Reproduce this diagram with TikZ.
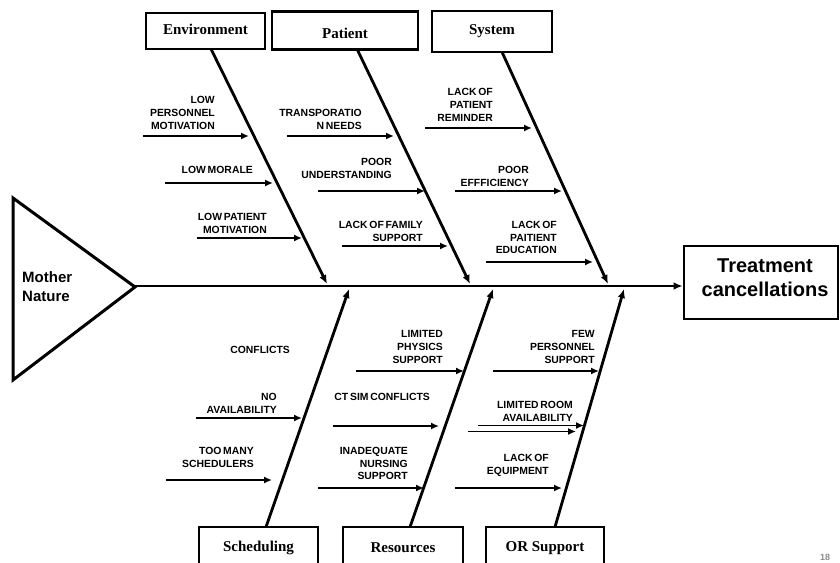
\documentclass[tikz,border=0pt]{standalone}
\usepackage{fontspec}
\setmainfont{Liberation Sans}[WordSpace=0.6]
\newfontfamily\catfont{Liberation Serif}
\usetikzlibrary{arrows.meta}
\begin{document}
\begin{tikzpicture}[x=1pt,y=-1pt,
  lbl/.style={font=\bfseries\fontsize{10.4}{12.8}\selectfont, align=right, anchor=east, inner sep=0pt, text=black},
  catbox/.style={draw, line width=2.6pt, inner sep=0pt, font=\catfont\bfseries\fontsize{15}{18}\selectfont},
  bone/.style={line width=2.8pt, -{Latex[length=9pt,width=7.5pt]}},
  sub/.style={line width=2.1pt, -{Latex[length=8pt,width=7pt]}},
  subthick/.style={line width=2.9pt, -{Latex[length=8pt,width=7pt]}},
  subthin/.style={line width=1.7pt, -{Latex[length=8pt,width=7pt]}}
]
\path[use as bounding box, clip] (0,0) rectangle (840,562);

% head
\draw[line width=3pt, line join=miter] (13,198) -- (135,287) -- (13,380) -- cycle;
\node[font=\bfseries\fontsize{15}{18.5}\selectfont, align=left, anchor=west, inner sep=0pt] (mn) at (22,286.5) {Mother\\Nature};
\node[draw, line width=2.6pt, minimum width=154pt, minimum height=73pt, inner sep=0pt] (tc) at (761,282.5) {};
\node[font=\bfseries\fontsize{20}{24}\selectfont, align=center, inner sep=0pt] (tct) at (765,277.5) {Treatment\\cancellations};
\coordinate (spine) at (135,286);
\draw[bone] (spine) -- (tc.west |- spine);

% category boxes
\node[catbox, minimum width=119pt, minimum height=36pt, text depth=4pt] (env) at (205.5,31) {Environment};
\node[catbox, minimum width=146pt, minimum height=38pt, text height=16pt] (pat) at (345,30.5) {Patient};
\node[catbox, minimum width=120pt, minimum height=41pt, text depth=4pt] (sys) at (492,31.5) {System};
\node[catbox, minimum width=119pt, minimum height=42pt] (sch) at (258.5,548) {Scheduling};
\node[catbox, minimum width=120pt, minimum height=42pt] (res) at (403,548) {Resources};
\node[catbox, minimum width=118pt, minimum height=42pt] (ors) at (545,548) {OR Support};

% bones
\coordinate (eA) at (211,49);  \coordinate (eB) at (327,284);
\coordinate (pA) at (357,49);  \coordinate (pB) at (470,284);
\coordinate (sA) at (502,52);  \coordinate (sB) at (608,284);
\coordinate (cA) at (266,527); \coordinate (cB) at (349,289);
\coordinate (rA) at (410,527); \coordinate (rB) at (493,289);
\coordinate (oA) at (555,527); \coordinate (oB) at (624,289);
\draw[bone] (eA) -- (eB);
\draw[bone] (pA) -- (pB);
\draw[bone] (sA) -- (sB);
\draw[bone] (cA) -- (cB);
\draw[bone] (rA) -- (rB);
\draw[bone] (oA) -- (oB);

% Environment causes
\node[lbl] (t1) at (215,113) {LOW\\PERSONNEL\\MOTIVATION};
\coordinate (a1s) at (143,136); \coordinate (a1e) at (249,136);
\draw[sub] (a1s) -- (a1e);
\node[lbl] (t2) at (253,170) {LOW MORALE};
\coordinate (a2s) at (165,183); \coordinate (a2e) at (273,183);
\draw[sub] (a2s) -- (a2e);
\node[lbl] (t3) at (267,223.5) {LOW PATIENT\\MOTIVATION};
\coordinate (a3s) at (197,238); \coordinate (a3e) at (302,238);
\draw[subthick] (a3s) -- (a3e);

% Patient causes
\node[lbl] (t4) at (362,119.5) {TRANSPORATIO\\N NEEDS};
\coordinate (a4s) at (287,136); \coordinate (a4e) at (394,136);
\draw[sub] (a4s) -- (a4e);
\node[lbl] (t5) at (392,168.5) {POOR\\UNDERSTANDING};
\coordinate (a5s) at (318,191); \coordinate (a5e) at (425,191);
\draw[sub] (a5s) -- (a5e);
\node[lbl] (t6) at (423,231.5) {LACK OF FAMILY\\SUPPORT};
\coordinate (a6s) at (342,246); \coordinate (a6e) at (448,246);
\draw[subthick] (a6s) -- (a6e);

% System causes
\node[lbl] (t7) at (493,105) {LACK OF\\PATIENT\\REMINDER};
\coordinate (a7s) at (425,128); \coordinate (a7e) at (532,128);
\draw[sub] (a7s) -- (a7e);
\node[lbl] (t8) at (529,176.5) {POOR\\EFFFICIENCY};
\coordinate (a8s) at (455,191); \coordinate (a8e) at (562,191);
\draw[sub] (a8s) -- (a8e);
\node[lbl] (t9) at (557,237.5) {LACK OF\\PAITIENT\\EDUCATION};
\coordinate (a9s) at (486,262); \coordinate (a9e) at (593,262);
\draw[sub] (a9s) -- (a9e);

% Scheduling causes
\node[lbl] (t10) at (290,350) {CONFLICTS};
\node[lbl] (t11) at (277,403.5) {NO\\AVAILABILITY};
\coordinate (a11s) at (196,418); \coordinate (a11e) at (302,418);
\draw[subthin] (a11s) -- (a11e);
\node[lbl] (t12) at (254,457.5) {TOO MANY\\SCHEDULERS};
\coordinate (a12s) at (166,480); \coordinate (a12e) at (272,480);
\draw[subthin] (a12s) -- (a12e);

% Resources causes
\node[lbl] (t13) at (443,347) {LIMITED\\PHYSICS\\SUPPORT};
\coordinate (a13s) at (356,371); \coordinate (a13e) at (464,371);
\draw[sub] (a13s) -- (a13e);
\node[lbl] (t14) at (430,397) {CT SIM CONFLICTS};
\coordinate (a14s) at (333,426); \coordinate (a14e) at (439,426);
\draw[sub] (a14s) -- (a14e);
\node[lbl] (t15) at (408,463.5) {INADEQUATE\\NURSING\\SUPPORT};
\coordinate (a15s) at (318,488); \coordinate (a15e) at (424,488);
\draw[sub] (a15s) -- (a15e);

% OR Support causes
\node[lbl] (t16) at (595,347) {FEW\\PERSONNEL\\SUPPORT};
\coordinate (a16s) at (493,371); \coordinate (a16e) at (599,371);
\draw[sub] (a16s) -- (a16e);
\node[lbl] (t17) at (573,411.5) {LIMITED ROOM\\AVAILABILITY};
\coordinate (a17s) at (478,425.5); \coordinate (a17e) at (584,425.5);
\draw[subthin] (a17s) -- (a17e);
\coordinate (a18s) at (468,431.5); \coordinate (a18e) at (576,431.5);
\draw[subthin] (a18s) -- (a18e);
\node[lbl] (t19) at (549,465.5) {LACK OF\\EQUIPMENT};
\coordinate (a19s) at (455,488); \coordinate (a19e) at (562,488);
\draw[sub] (a19s) -- (a19e);

% slide number
\node[text=black!45, font=\bfseries\fontsize{9}{10}\selectfont, anchor=base, inner sep=0pt] (pg) at (825,560) {18};
\end{tikzpicture}
\end{document}
